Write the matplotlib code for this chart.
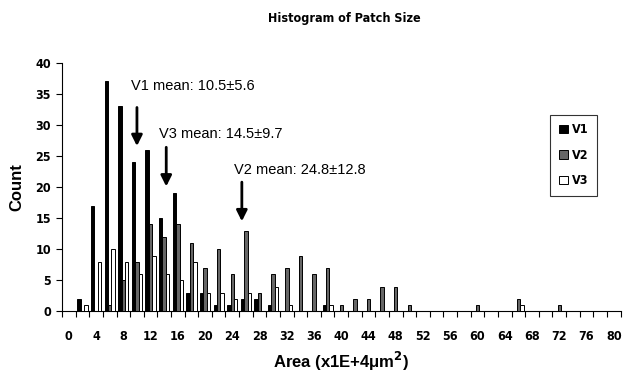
import numpy as np
import matplotlib
matplotlib.use("Agg")
import matplotlib.pyplot as plt
from matplotlib import font_manager

# bin labels (x1E+4 um^2), one category every 2 units
bins = list(range(0, 82, 2))

# counts, keyed by bin
v1_counts = {2: 2, 4: 17, 6: 37, 8: 33, 10: 24, 12: 26, 14: 15, 16: 19, 18: 3,
             20: 3, 22: 1, 24: 1, 26: 2, 28: 2, 30: 1, 38: 1}
v2_counts = {6: 1, 8: 5, 10: 8, 12: 14, 14: 12, 16: 14, 18: 11, 20: 7, 22: 10,
             24: 6, 26: 13, 28: 3, 30: 6, 32: 7, 34: 9, 36: 6, 38: 7, 40: 1,
             42: 2, 44: 2, 46: 4, 48: 4, 50: 1, 60: 1, 66: 2, 72: 1}
v3_counts = {2: 1, 4: 8, 6: 10, 8: 8, 10: 6, 12: 9, 14: 6, 16: 5, 18: 8,
             20: 3, 22: 3, 24: 2, 26: 3, 30: 4, 32: 1, 38: 1, 66: 1}

series = ["V1", "V2", "V3"]
means = [10.5, 24.8, 14.5]
sds = [5.6, 12.8, 9.7]

v1 = np.array([v1_counts.get(b, 0) for b in bins])
v2 = np.array([v2_counts.get(b, 0) for b in bins])
v3 = np.array([v3_counts.get(b, 0) for b in bins])

plt.rcParams["font.family"] = ["Liberation Sans", "DejaVu Sans"]

# narrow bold face for ticks / title, if one is installed
installed = {f.name for f in font_manager.fontManager.ttflist}
if "Liberation Sans Narrow" in installed:
    NARROW = dict(family="Liberation Sans Narrow")
    tick_size, title_size = 10, 9.5
else:
    NARROW = dict(family="DejaVu Sans", stretch="condensed")
    tick_size, title_size = 9, 9

fig = plt.figure(figsize=(6.29, 3.83), dpi=100)
ax = fig.add_axes([0.0986, 0.1867, 0.888, 0.6496])

x = np.array(bins, dtype=float)
w = 0.5
colors = ["#000000", "#666666", "#ffffff"]
for k, vals in enumerate([v1, v2, v3]):
    ax.bar(x + (k - 1) * w, vals, width=w, color=colors[k], edgecolor="black",
           linewidth=0.7, label=series[k], zorder=3)

ax.set_xlim(-1, 81)
ax.set_ylim(0, 40)
ax.set_yticks(range(0, 41, 5))
ax.set_xticks(range(0, 81, 4))
ax.set_xticks(np.arange(-1, 82, 2), minor=True)
ax.tick_params(axis="x", which="major", length=0, pad=13)
ax.tick_params(axis="x", which="minor", length=4, direction="out", width=0.8)
ax.tick_params(axis="y", length=4, direction="out", width=0.8, pad=4)
for lbl in ax.get_xticklabels() + ax.get_yticklabels():
    lbl.set(fontweight="bold", fontsize=tick_size, **NARROW)

for s in ["top", "right"]:
    ax.spines[s].set_visible(False)
for s in ["left", "bottom"]:
    ax.spines[s].set_linewidth(0.8)

ax.set_xlabel("Area (x1E+4\u03bcm$^\\mathbf{2}$)", fontsize=12, fontweight="bold",
              labelpad=5)
ax.set_ylabel("Count", fontsize=12, fontweight="bold", labelpad=8)
fig.text(0.548, 0.952, "Histogram of Patch Size", ha="center", va="center",
         fontsize=title_size, fontweight="bold", **NARROW)

# mean annotations: series index, text x/y, arrow x, arrow start/end y
ann = [
    (0, 9.1, 36.2, 10.0, 32.8, 26.6),
    (2, 13.2, 28.5, 14.3, 26.4, 20.1),
    (1, 24.2, 22.8, 25.4, 20.8, 14.5),
]
for idx, tx, ty, axx, y0, y1 in ann:
    ax.text(tx, ty, f"{series[idx]} mean: {means[idx]}\u00b1{sds[idx]}",
            fontsize=10.5, ha="left", va="center")
    ax.annotate("", xy=(axx, y1), xytext=(axx, y0),
                arrowprops=dict(arrowstyle="-|>", color="black", lw=2,
                                mutation_scale=16, shrinkA=0, shrinkB=0))

leg = ax.legend(loc="lower left", bbox_to_anchor=(550 / 629, 1 - 196 / 383),
                bbox_transform=fig.transFigure, frameon=True,
                fancybox=False, edgecolor="black", handlelength=0.7,
                handleheight=0.7, handletextpad=0.35, labelspacing=1.0,
                borderpad=0.7, borderaxespad=0,
                prop=dict(weight="bold", size=tick_size, **NARROW))
leg.get_frame().set_linewidth(0.8)

fig.savefig("out.png", dpi=100)
